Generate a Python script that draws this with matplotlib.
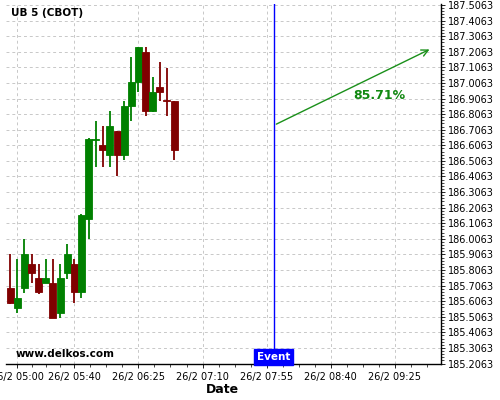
import numpy as np
import pandas as pd
import matplotlib
matplotlib.use('Agg')
import matplotlib.pyplot as plt
import matplotlib.dates as mdates
from matplotlib.ticker import FixedLocator, FuncFormatter
from matplotlib.transforms import blended_transform_factory

# 5 minute candles, 26/2 from 04:55 on
times = pd.date_range('2015-02-26 04:55', periods=24, freq='5min')
opens = [185.692, 185.565, 185.694, 185.846, 185.756, 185.726, 185.724, 185.533,
         185.790, 185.846, 185.662, 186.136, 186.637, 186.605, 186.541, 186.695,
         186.541, 186.856, 187.010, 187.203, 186.824, 186.978, 186.897, 186.888]
highs = [185.910, 185.878, 186.007, 185.910, 185.846, 185.878, 185.878, 185.846,
         185.975, 185.878, 186.168, 186.650, 186.759, 186.727, 186.824, 186.695,
         186.888, 187.171, 187.235, 187.235, 187.042, 187.139, 187.100, 186.888]
lows = [185.590, 185.531, 185.660, 185.724, 185.653, 185.724, 185.499, 185.499,
        185.750, 185.595, 185.628, 186.007, 186.470, 186.470, 186.470, 186.412,
        186.509, 186.759, 186.946, 186.792, 186.817, 186.888, 186.792, 186.509]
closes = [185.597, 185.628, 185.910, 185.790, 185.662, 185.756, 185.501, 185.756,
          185.910, 185.662, 186.161, 186.644, 186.644, 186.573, 186.727, 186.541,
          186.856, 187.010, 187.235, 186.824, 186.946, 186.946, 186.891, 186.573]

title = 'UB 5 (CBOT)'
event_time = pd.Timestamp('2015-02-26 08:00')
arrow_from = (pd.Timestamp('2015-02-26 08:00'), 186.734)
arrow_to = (pd.Timestamp('2015-02-26 09:51'), 187.229)
pct_text = '85.71%'
pct_pos = (pd.Timestamp('2015-02-26 08:56'), 186.926)
xtick_times = ['05:00', '05:40', '06:25', '07:10', '07:55', '08:40', '09:25']

up_col = '#008000'
down_col = '#800000'

fig = plt.figure(figsize=(5, 4), dpi=100)
ax = fig.add_axes([0.012, 0.09, 0.870, 0.90])

x = mdates.date2num(times)
w = 5 / 1440 * 0.98
for xi, o, h, l, c in zip(x, opens, highs, lows, closes):
    col = up_col if c >= o else down_col
    ax.vlines(xi, l, h, color=col, lw=1.3, zorder=3)
    ax.bar(xi, c - o, bottom=o, width=w, color=col, edgecolor=col, lw=0.6, zorder=4)

# event marker
ax.axvline(mdates.date2num(event_time), color='#0000ff', lw=1.0, zorder=5)
trans = blended_transform_factory(ax.transData, ax.transAxes)
ax.text(mdates.date2num(event_time), 0.006, 'Event', transform=trans, ha='center', va='bottom',
        color='white', fontsize=7.5, fontweight='bold', zorder=6,
        bbox=dict(boxstyle='square,pad=0.28', facecolor='#0000ff', edgecolor='#0000ff'))

# projection arrow
ax.annotate('', xy=(mdates.date2num(arrow_to[0]), arrow_to[1]),
            xytext=(mdates.date2num(arrow_from[0]), arrow_from[1]),
            arrowprops=dict(arrowstyle='->', color='#1a901a', lw=1, mutation_scale=12), zorder=6)
ax.text(mdates.date2num(pct_pos[0]), pct_pos[1], pct_text, color='#118811', fontsize=9,
        fontweight='bold', ha='left', va='center')

ax.text(0.011, 0.976, title, transform=ax.transAxes, fontsize=7.5, fontweight='bold', va='center')
ax.text(0.022, 0.028, 'www.delkos.com', transform=ax.transAxes, fontsize=7.5, fontweight='bold', va='center')

# axes limits and ticks
x0 = mdates.date2num(pd.Timestamp('2015-02-26 04:52:06'))
x1 = mdates.date2num(pd.Timestamp('2015-02-26 09:57:18'))
ax.set_xlim(x0, x1)
ax.set_ylim(185.2033, 187.5125)

major_x = [mdates.date2num(pd.Timestamp('2015-02-26 ' + t)) for t in xtick_times]
minor_x = []
for a, b in zip(major_x[:-1], major_x[1:]):
    minor_x += list(np.linspace(a, b, 5)[1:-1])
minor_x += list(major_x[-1] + np.arange(1, 3) * (major_x[-1] - major_x[-2]) / 4)
ax.xaxis.set_major_locator(FixedLocator(major_x))
ax.xaxis.set_minor_locator(FixedLocator(minor_x))
ax.xaxis.set_major_formatter(FuncFormatter(
    lambda v, p: '%d/%d %s' % (mdates.num2date(v).day, mdates.num2date(v).month,
                               mdates.num2date(v).strftime('%H:%M'))))

yt = 185.2063 + 0.1 * np.arange(24)
ax.yaxis.set_major_locator(FixedLocator(yt))
ax.yaxis.set_minor_locator(FixedLocator(185.2063 + 0.02 * np.arange(116)))
ax.yaxis.set_major_formatter(FuncFormatter(lambda v, p: '%.4f' % v))
ax.yaxis.tick_right()

ax.tick_params(axis='both', which='major', labelsize=7, length=3, width=0.6, pad=2)
ax.tick_params(axis='x', which='major', pad=3)
ax.tick_params(axis='both', which='minor', length=1.8, width=0.5)

ax.grid(True, which='major', color='#c8c8c8', lw=0.7, linestyle=(0, (3, 3)))
ax.set_axisbelow(True)
for s in ['top', 'left']:
    ax.spines[s].set_visible(False)
for s in ['right', 'bottom']:
    ax.spines[s].set_linewidth(1)

ax.set_xlabel('Date', fontsize=9, fontweight='bold')
ax.xaxis.set_label_coords(0.497, -0.053)

fig.savefig('out.png', dpi=100)
